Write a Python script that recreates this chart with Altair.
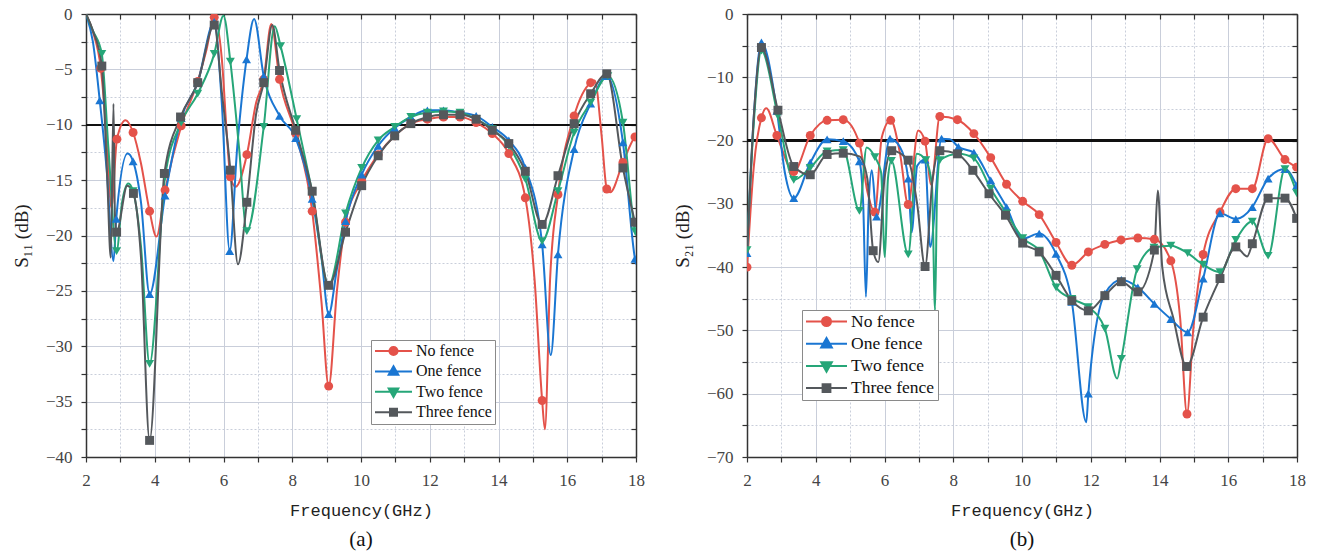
import altair as alt
import pandas as pd

SERIES = ["No fence", "One fence", "Two fence", "Three fence"]
COLORS = ["#E4524A", "#1A76D2", "#26A678", "#54585C"]
SHAPES = ["circle", "triangle-up", "triangle-down", "square"]
LEGEND_PATHS = [
    "M-1,0H1M0.22,0A0.22,0.22,0,1,1,-0.22,0A0.22,0.22,0,1,1,0.22,0Z",
    "M-1,0H1M0,-0.28L0.26,0.18L-0.26,0.18Z",
    "M-1,0H1M0,0.28L0.26,-0.18L-0.26,-0.18Z",
    "M-1,0H1M-0.19,-0.19H0.19V0.19H-0.19Z",
]

# (frequency in GHz, dB, 1 = drawn with a marker)
S11_NO = [(2.0, 0, 0), (2.2, -1.6, 0), (2.43, -4.9, 1), (2.6, -11, 0), (2.74, -17.5, 0),
          (2.9, -11.3, 1), (3.15, -9.6, 0), (3.37, -10.7, 1), (3.6, -13.5, 0), (3.85, -17.8, 1),
          (4.05, -20.1, 0), (4.3, -15.9, 1), (4.77, -10.1, 1), (5.25, -6.1, 1), (5.5, -3.3, 0),
          (5.73, -0.3, 1), (5.95, -4, 0), (6.1, -11, 0), (6.2, -14.7, 1), (6.35, -15.6, 0),
          (6.68, -12.7, 1), (6.95, -8.0, 0), (7.17, -5.9, 1), (7.39, -0.9, 0), (7.63, -5.9, 1),
          (8.1, -10.8, 1), (8.58, -17.8, 1), (8.85, -26, 0), (9.06, -33.6, 1), (9.3, -25, 0),
          (9.55, -18.8, 1), (10.02, -15.1, 1), (10.5, -12.7, 1), (10.98, -11.0, 1), (11.45, -9.9, 1),
          (11.93, -9.5, 1), (12.4, -9.3, 1), (12.88, -9.3, 1), (13.35, -9.8, 1), (13.82, -10.8, 1),
          (14.3, -12.6, 1), (14.78, -16.6, 1), (15.05, -24, 0), (15.27, -34.9, 1), (15.35, -37.5, 0),
          (15.5, -24, 0), (15.73, -16.3, 1), (16.2, -9.2, 1), (16.68, -6.2, 1), (16.8, -6.0, 0),
          (17.0, -11, 0), (17.15, -15.8, 1), (17.25, -16.1, 0), (17.62, -13.4, 1), (17.97, -11.1, 1),
          (18.0, -11.0, 0)]
S11_ONE = [(2.0, 0, 0), (2.2, -2.5, 0), (2.4, -7.8, 1), (2.6, -14, 0), (2.8, -22.3, 0),
           (2.88, -18.5, 1), (3.21, -12.6, 0), (3.37, -13.3, 1), (3.6, -17, 0), (3.85, -25.3, 1),
           (4.3, -16.4, 1), (4.77, -9.4, 1), (5.25, -6.2, 1), (5.73, -0.7, 1), (5.95, -8, 0),
           (6.18, -21.4, 1), (6.4, -12, 0), (6.67, -4.1, 1), (6.89, -0.45, 0), (7.17, -5.6, 1),
           (7.63, -9.2, 1), (8.1, -11.2, 1), (8.58, -16.7, 1), (8.85, -22, 0), (9.06, -27.1, 1),
           (9.3, -23, 0), (9.55, -18.7, 1), (10.02, -14.5, 1), (10.5, -11.9, 1), (10.98, -10.3, 1),
           (11.45, -9.3, 1), (11.93, -8.7, 1), (12.4, -8.7, 1), (12.88, -8.9, 1), (13.35, -9.2, 1),
           (13.82, -10.2, 1), (14.3, -11.4, 1), (14.78, -13.9, 1), (15.27, -20.8, 1), (15.52, -30.8, 0),
           (15.73, -21.7, 1), (16.2, -12.2, 1), (16.68, -8.1, 1), (17.15, -5.6, 1), (17.62, -11.6, 1),
           (17.97, -22.1, 1), (18.0, -22.6, 0)]
S11_TWO = [(2.0, 0, 0), (2.2, -1.5, 0), (2.46, -3.6, 1), (2.65, -12, 0), (2.89, -21.4, 1),
           (3.05, -17, 0), (3.23, -15.3, 0), (3.37, -16.0, 1), (3.6, -21, 0), (3.85, -31.6, 1),
           (4.3, -14.7, 1), (4.77, -9.8, 1), (5.25, -7.2, 1), (5.73, -3.6, 1), (6.0, -0.15, 0),
           (6.2, -4.3, 1), (6.45, -12, 0), (6.68, -19.6, 1), (7.17, -10.2, 1), (7.49, -1.1, 0),
           (7.66, -2.9, 1), (8.13, -9.5, 1), (8.58, -16.1, 1), (9.06, -24.5, 1), (9.55, -18.0, 1),
           (10.02, -13.9, 1), (10.5, -11.4, 1), (10.98, -10.2, 1), (11.45, -9.3, 1), (11.93, -8.9, 1),
           (12.4, -8.8, 1), (12.88, -8.9, 1), (13.35, -9.5, 1), (13.82, -10.4, 1), (14.3, -11.9, 1),
           (14.78, -14.9, 1), (15.27, -20.5, 1), (15.73, -16.0, 1), (16.2, -10.7, 1), (16.68, -8.0, 1),
           (17.18, -5.6, 1), (17.62, -9.8, 1), (17.97, -19.6, 1), (18.0, -20.0, 0)]
S11_THREE = [(2.0, 0, 0), (2.2, -1.5, 0), (2.46, -4.7, 1), (2.62, -15, 0), (2.72, -22, 0),
             (2.8, -8.1, 0), (2.84, -18, 0), (2.89, -19.7, 1), (3.2, -15.5, 0), (3.38, -16.2, 1),
             (3.6, -22, 0), (3.85, -38.5, 1), (4.28, -14.4, 1), (4.75, -9.3, 1), (5.25, -6.2, 1),
             (5.73, -1.0, 1), (5.95, -7, 0), (6.2, -14.1, 1), (6.42, -22.6, 0), (6.68, -17.0, 1),
             (6.95, -9, 0), (7.17, -6.2, 1), (7.42, -1.0, 0), (7.63, -5.1, 1), (8.1, -10.5, 1),
             (8.58, -16.0, 1), (9.06, -24.5, 1), (9.55, -19.7, 1), (10.02, -15.5, 1), (10.5, -12.8, 1),
             (10.98, -11.0, 1), (11.45, -9.9, 1), (11.93, -9.3, 1), (12.4, -9.1, 1), (12.88, -9.1, 1),
             (13.35, -9.5, 1), (13.82, -10.5, 1), (14.3, -11.7, 1), (14.78, -14.2, 1), (15.27, -19.0, 1),
             (15.73, -14.6, 1), (16.2, -9.9, 1), (16.68, -7.2, 1), (17.15, -5.4, 1), (17.62, -13.9, 1),
             (17.97, -18.8, 1), (18.0, -19.2, 0)]

S21_NO = [(2.0, -40, 1), (2.2, -24, 0), (2.42, -16.4, 1), (2.56, -14.9, 0), (2.87, -19.2, 1),
          (3.36, -24.9, 1), (3.84, -19.2, 1), (4.33, -16.8, 1), (4.8, -16.7, 1), (5.27, -20.4, 1),
          (5.5, -28, 0), (5.72, -31.3, 1), (5.92, -19.5, 0), (6.18, -16.8, 1), (6.45, -22, 0),
          (6.69, -30.1, 1), (6.98, -18.4, 0), (7.18, -20.1, 1), (7.36, -27, 0), (7.61, -16.2, 1),
          (8.12, -16.7, 1), (8.6, -18.9, 1), (9.09, -22.7, 1), (9.55, -26.9, 1), (10.02, -29.6, 1),
          (10.5, -31.7, 1), (10.99, -36.1, 1), (11.45, -39.7, 1), (11.93, -37.6, 1), (12.41, -36.4, 1),
          (12.88, -35.7, 1), (13.37, -35.4, 1), (13.85, -35.6, 1), (14.33, -39.0, 1), (14.6, -48, 0),
          (14.8, -63.2, 1), (14.98, -50, 0), (15.27, -38.0, 1), (15.76, -31.3, 1), (16.22, -27.6, 1),
          (16.7, -27.6, 1), (17.16, -19.7, 1), (17.65, -23.0, 1), (17.99, -24.2, 1)]
S21_ONE = [(2.0, -37.8, 1), (2.2, -16, 0), (2.42, -4.5, 1), (2.87, -15.3, 1), (3.1, -25, 0),
           (3.36, -29.1, 1), (3.84, -23.5, 1), (4.33, -19.8, 1), (4.8, -20.1, 1), (5.27, -23.3, 1),
           (5.38, -30, 0), (5.46, -44.7, 0), (5.54, -30, 0), (5.63, -24.7, 0), (5.77, -32.0, 1),
           (6.16, -19.7, 1), (6.45, -21, 0), (6.69, -26.0, 1), (6.79, -34.5, 0), (6.95, -24, 0),
           (7.18, -23.0, 1), (7.33, -36.8, 0), (7.66, -19.7, 1), (7.9, -19.8, 0), (8.15, -21.0, 1),
           (8.6, -21.9, 1), (9.09, -26.3, 1), (9.55, -30.5, 1), (10.02, -35.5, 1), (10.5, -34.7, 1),
           (10.99, -37.9, 1), (11.45, -45.5, 1), (11.87, -64.5, 0), (11.93, -60.0, 1), (12.41, -44.2, 1),
           (12.89, -42.0, 1), (13.37, -43.2, 1), (13.85, -45.8, 1), (14.33, -48.2, 1), (14.82, -50.3, 1),
           (15.27, -41.8, 1), (15.76, -31.5, 1), (16.22, -32.4, 1), (16.7, -30.5, 1), (17.16, -26.0, 1),
           (17.65, -24.5, 1), (17.99, -27.1, 1)]
S21_TWO = [(2.0, -37.3, 1), (2.2, -17, 0), (2.42, -5.8, 1), (2.9, -16.1, 1), (3.36, -26.2, 1),
           (3.84, -24.3, 1), (4.33, -21.7, 1), (4.8, -21.5, 1), (5.27, -31.1, 1), (5.48, -21.1, 0),
           (5.72, -22.6, 1), (5.9, -25, 0), (6.01, -38.4, 0), (6.1, -26, 0), (6.2, -23.2, 1),
           (6.69, -38.0, 1), (6.94, -22.1, 0), (7.2, -23.1, 1), (7.38, -27, 0), (7.47, -46.8, 0),
           (7.53, -28, 0), (7.61, -23.1, 1), (8.15, -22.1, 1), (8.6, -22.8, 1), (9.09, -27.6, 1),
           (9.55, -31.5, 1), (10.02, -35.4, 1), (10.5, -37.4, 1), (10.99, -43.2, 1), (11.45, -45.0, 1),
           (11.93, -46.3, 1), (12.41, -49.7, 1), (12.77, -57.6, 0), (12.89, -54.5, 1), (13.35, -40.3, 1),
           (13.84, -36.9, 1), (14.33, -36.6, 1), (14.82, -37.8, 1), (15.27, -39.6, 1), (15.76, -40.8, 1),
           (16.22, -35.7, 1), (16.7, -32.8, 1), (17.16, -38.2, 1), (17.65, -24.5, 1), (17.99, -28.3, 1)]
S21_THREE = [(2.0, -38, 0), (2.2, -16, 0), (2.42, -5.3, 1), (2.9, -15.2, 1), (3.36, -24.1, 1),
             (3.84, -25.4, 1), (4.33, -22.2, 1), (4.8, -22.0, 1), (5.27, -22.5, 0), (5.5, -26, 0),
             (5.67, -37.4, 1), (5.82, -39.2, 0), (6.0, -26, 0), (6.21, -21.6, 1), (6.69, -23.1, 1),
             (6.95, -30, 0), (7.18, -39.9, 1), (7.4, -26, 0), (7.61, -21.6, 1), (8.12, -22.1, 1),
             (8.57, -24.7, 1), (9.04, -28.4, 1), (9.52, -31.8, 1), (10.02, -36.2, 1), (10.5, -37.6, 1),
             (10.99, -41.3, 1), (11.45, -45.3, 1), (11.93, -46.9, 1), (12.41, -44.5, 1), (12.89, -42.3, 1),
             (13.37, -43.9, 1), (13.85, -37.3, 1), (13.95, -27.9, 0), (14.08, -40, 0), (14.4, -48, 0),
             (14.79, -55.7, 1), (15.27, -47.9, 1), (15.76, -41.8, 1), (16.22, -36.8, 1), (16.55, -38.3, 0),
             (16.7, -36.3, 1), (17.16, -29.1, 1), (17.65, -29.1, 1), (17.99, -32.3, 1)]

SERIF = "Liberation Serif, DejaVu Serif, serif"
MONO = "Liberation Mono, DejaVu Sans Mono, monospace"
W, H = 550, 443


def table(series_points):
    rows = []
    for name, color, shape, pts in zip(SERIES, COLORS, SHAPES, series_points):
        for f, v, m in pts:
            rows.append({"series": name, "f": f, "v": v, "m": m, "col": color, "shp": shape})
    return pd.DataFrame(rows)


def pick(values, default):
    expr = default
    for name, val in reversed(list(zip(SERIES, values))):
        expr = f"datum.value === '{name}' ? '{val}' : {expr}"
    return expr


def panel(series_points, ymin, ystep, ylabel_every, ref, ytitle, caption,
          legend_x, legend_y, sym_size, label_size, clip_h, row_pad):
    df = table(series_points)
    pts = df[df["m"] == 1]
    xdom = alt.Scale(domain=[2, 18], nice=False, zero=False)
    ydom = alt.Scale(domain=[ymin, 0], nice=False, zero=False)
    xvals = list(range(2, 19))
    n = int(round(-ymin / ystep))
    yvals = [ymin + i * ystep for i in range(n + 1)]
    grid_c = "#C9CEDA"
    x_axis = alt.Axis(
        values=xvals, labelExpr="datum.value % 2 == 0 ? datum.label : ''",
        title="Frequency(GHz)", titleFont=MONO, titleFontSize=17, titleFontWeight="normal",
        titleColor="#222", titlePadding=14,
        labelFont=SERIF, labelFontSize=17, labelColor="#444", labelPadding=10,
        tickSize=5, tickColor="#333", tickWidth=1.2, domainColor="#333", domainWidth=1.5,
        grid=True, gridColor=grid_c, gridWidth=1,
        gridDash={"condition": {"test": "datum.value % 2 != 0", "value": [2, 2]}, "value": []},
        labelFlush=False)
    y_axis = alt.Axis(
        values=yvals,
        labelExpr=f"datum.value % {ylabel_every} == 0 ? datum.label : ''",
        title=ytitle, titleFont=SERIF, titleFontSize=19, titleFontWeight="normal",
        titleColor="#222", titlePadding=14,
        labelFont=SERIF, labelFontSize=17, labelColor="#444", labelPadding=9,
        tickSize=5, tickColor="#333", tickWidth=1.2, domainColor="#333", domainWidth=1.5,
        grid=True, gridColor=grid_c, gridWidth=1,
        gridDash={"condition": {"test": f"datum.value % {ylabel_every} != 0", "value": [2, 2]},
                  "value": []},
        labelFlush=False)
    x_top = alt.Axis(orient="top", values=xvals, labels=False, title=None, grid=False,
                     tickSize=alt.ExprRef("-5"), tickColor="#333", tickWidth=1.2,
                     domainColor="#333", domainWidth=1.5)
    y_right = alt.Axis(orient="right", values=yvals, labels=False, title=None, grid=False,
                       tickSize=alt.ExprRef("-5"), tickColor="#333", tickWidth=1.2,
                       domainColor="#333", domainWidth=1.5)

    rule = alt.Chart(df).mark_rule(color="#111", strokeWidth=1.6).encode(
        y=alt.Y(datum=ref, scale=ydom, axis=None))

    lines = alt.Chart(df).mark_line(interpolate="monotone", strokeWidth=2, clip=True).encode(
        x=alt.X("f:Q", scale=xdom, axis=x_axis),
        y=alt.Y("v:Q", scale=ydom, axis=y_axis),
        color=alt.Color("series:N", scale=alt.Scale(domain=SERIES, range=COLORS),
                        legend=alt.Legend(
                            title=None, orient="none", legendX=legend_x, legendY=legend_y,
                            direction="vertical",
                            symbolType=alt.ExprRef(pick(LEGEND_PATHS, "'stroke'")),
                            symbolFillColor=alt.ExprRef(pick(COLORS, "'black'")),
                            symbolSize=sym_size, symbolStrokeWidth=2,
                            labelFont=SERIF, labelFontSize=label_size, labelColor="#111",
                            labelOffset=3, labelLimit=0, rowPadding=row_pad, clipHeight=clip_h,
                            strokeColor="#8a8a8a", fillColor="white", padding=3,
                            cornerRadius=0)),
        order=alt.Order("f:Q"))

    points = alt.Chart(pts).mark_point(filled=True, size=80, opacity=1, clip=True).encode(
        x=alt.X("f:Q", scale=xdom, axis=x_top),
        y=alt.Y("v:Q", scale=ydom, axis=y_right),
        color=alt.Color("col:N", scale=None),
        shape=alt.Shape("shp:N", scale=None))

    return alt.layer(rule, lines, points).resolve_axis(x="independent", y="independent").properties(
        width=W, height=H,
        title=alt.TitleParams(caption, orient="bottom", anchor="middle", font=SERIF, fontSize=21,
                              fontWeight="normal", color="#111", offset=11))


left = panel([S11_NO, S11_ONE, S11_TWO, S11_THREE], -40, 2.5, 5, -10, "S\u2081\u2081 (dB)", "(a)",
             285, 326, 1369, 16, 16, 4.4)
right = panel([S21_NO, S21_ONE, S21_TWO, S21_THREE], -70, 5, 10, -20, "S\u2082\u2081 (dB)", "(b)",
              55, 296, 1681, 17.5, 17, 4.2)

chart = alt.hconcat(left, right, spacing=28).resolve_scale(color="independent").configure(
    padding={"left": 12, "top": 5, "right": 5, "bottom": 2}
).configure_view(stroke=None)

chart.save("out.html", embed_options={"renderer": "svg", "actions": False})
